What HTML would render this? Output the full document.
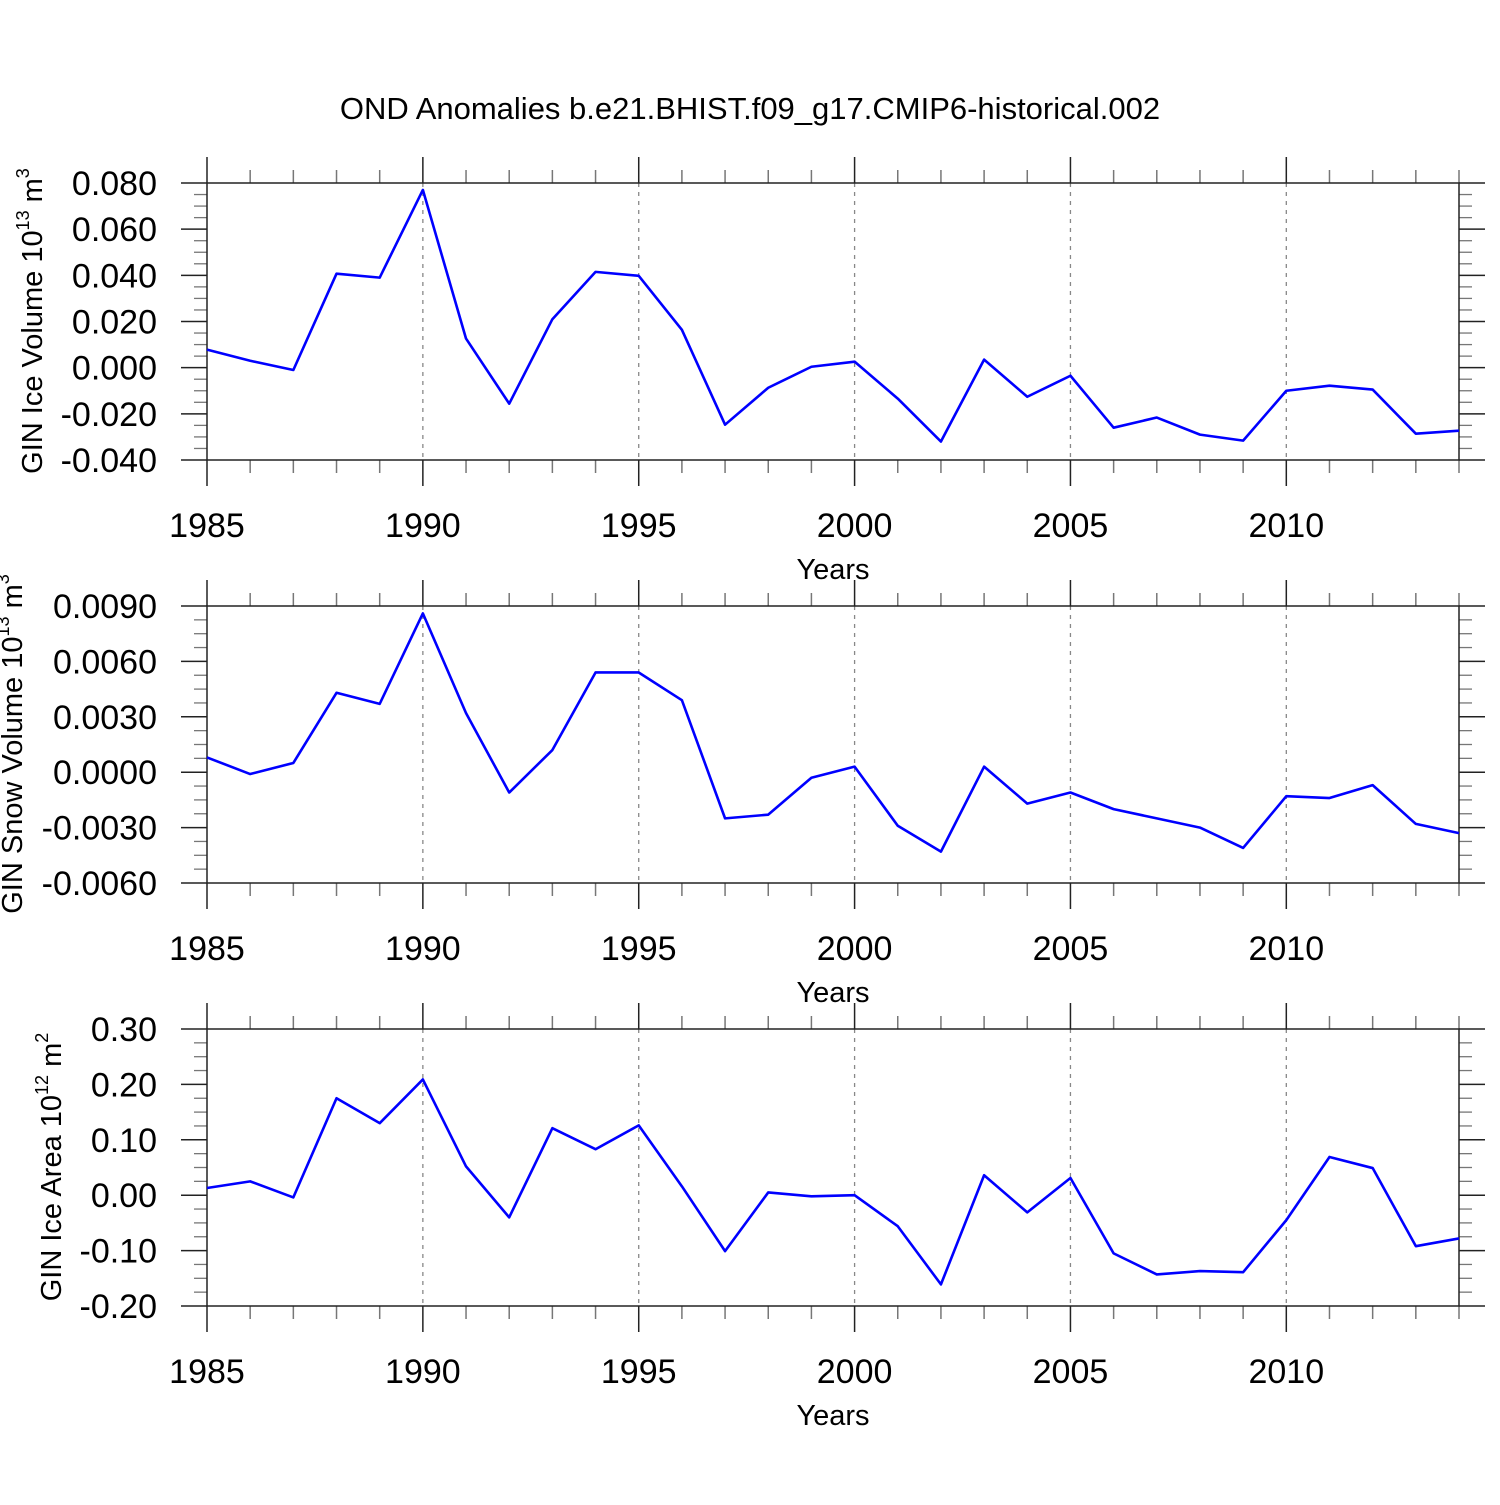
<!DOCTYPE html>
<html><head><meta charset="utf-8"><style>
body{margin:0;background:#fff}
svg text{font-family:"Liberation Sans",sans-serif;fill:#000}
</style></head><body>
<svg id="chart" width="1500" height="1500" xmlns="http://www.w3.org/2000/svg">
<text x="750" y="119" font-size="31" text-anchor="middle">OND Anomalies b.e21.BHIST.f09_g17.CMIP6-historical.002</text>
</svg>
<script>
const years = [1985,1986,1987,1988,1989,1990,1991,1992,1993,1994,1995,1996,1997,1998,1999,2000,2001,2002,2003,2004,2005,2006,2007,2008,2009,2010,2011,2012,2013,2014];
const iceVolume = [0.0078,0.003,-0.001,0.0407,0.039,0.077,0.0126,-0.0156,0.021,0.0415,0.0398,0.0164,-0.0247,-0.0087,0.0004,0.0026,-0.0134,-0.032,0.0035,-0.0126,-0.0035,-0.026,-0.0216,-0.029,-0.0316,-0.01,-0.0078,-0.0095,-0.0286,-0.0273];
const snowVolume = [0.0008,-0.0001,0.0005,0.0043,0.0037,0.0086,0.0032,-0.0011,0.0012,0.0054,0.0054,0.0039,-0.0025,-0.0023,-0.0003,0.0003,-0.0029,-0.0043,0.0003,-0.0017,-0.0011,-0.002,-0.0025,-0.003,-0.0041,-0.0013,-0.0014,-0.0007,-0.0028,-0.0033];
const iceArea = [0.013,0.025,-0.004,0.175,0.13,0.209,0.052,-0.04,0.121,0.083,0.126,0.016,-0.101,0.005,-0.002,0.0,-0.056,-0.161,0.036,-0.031,0.031,-0.105,-0.143,-0.137,-0.139,-0.045,0.069,0.049,-0.092,-0.078];
const xTicks = [1985,1990,1995,2000,2005,2010];
const iceVolTicks = [0.08,0.06,0.04,0.02,0,-0.02,-0.04];
const iceVolLabels = ["0.080","0.060","0.040","0.020","0.000","-0.020","-0.040"];
const snowTicks = [0.009,0.006,0.003,0,-0.003,-0.006];
const snowLabels = ["0.0090","0.0060","0.0030","0.0000","-0.0030","-0.0060"];
const areaTicks = [0.3,0.2,0.1,0,-0.1,-0.2];
const areaLabels = ["0.30","0.20","0.10","0.00","-0.10","-0.20"];

const NS="http://www.w3.org/2000/svg";
const svg=document.getElementById('chart');
function mk(tag,attrs,parent){const e=document.createElementNS(NS,tag);for(const k in attrs)e.setAttribute(k,attrs[k]);(parent||svg).appendChild(e);return e;}
const X0=207,X1=1459;
const xScale=y=>X0+(y-1985)/(2014-1985)*(X1-X0);

function panel(name,top,vals,ticks,labels,ymin,ymax,ylab,sup,unit,ylabX,ylabY){
  const bot=top+277;
  const g=mk('g',{});
  
  
  const ys=v=>bot-(v-ymin)/(ymax-ymin)*(bot-top);
  xTicks.slice(1).forEach(t=>{const l=mk('line',{x1:xScale(t),x2:xScale(t),y1:top,y2:bot,stroke:'#888','stroke-width':1.3,'stroke-dasharray':'4,5'},g);
    
    });
  for(let yr=1985;yr<=2014;yr++){
    const maj=(yr%5===0);const len=maj?26:13;const x=xScale(yr);
    mk('line',{x1:x,x2:x,y1:top,y2:top-len,stroke:maj?'#222':'#777','stroke-width':1.5},g);
    mk('line',{x1:x,x2:x,y1:bot,y2:bot+len,stroke:maj?'#222':'#777','stroke-width':1.5},g);
  }
  const step=(ticks[0]-ticks[1]);
  for(let i=0;i<ticks.length;i++){
    const y=ys(ticks[i]);
    mk('line',{x1:X0,x2:X0-26,y1:y,y2:y,stroke:'#222','stroke-width':1.5},g);
    mk('line',{x1:X1,x2:X1+26,y1:y,y2:y,stroke:'#222','stroke-width':1.5},g);
    const t=mk('text',{x:157,y:y+12,'font-size':34,'text-anchor':'end'},g);
    t.textContent=labels[i];
    
    
    if(i<ticks.length-1){for(let k=1;k<4;k++){const ym=ys(ticks[i]-step*k/4);
      mk('line',{x1:X0,x2:X0-13,y1:ym,y2:ym,stroke:'#777','stroke-width':1.3},g);
      mk('line',{x1:X1,x2:X1+13,y1:ym,y2:ym,stroke:'#777','stroke-width':1.3},g);}}
  }
  mk('rect',{x:X0,y:top,width:X1-X0,height:bot-top,fill:'none',stroke:'#222','stroke-width':1.5},g);
  xTicks.forEach(t=>{const tx=mk('text',{x:xScale(t),y:bot+77,'font-size':34,'text-anchor':'middle'},g);tx.textContent=t;
    
    });
  const xt=mk('text',{x:833,y:bot+119,'font-size':29,'text-anchor':'middle'},g);xt.textContent='Years';
  
  
  const yt=mk('text',{transform:`translate(${ylabX},${ylabY}) rotate(-90)`,'font-size':29,'text-anchor':'middle'},g);
  
  
  yt.innerHTML=ylab+' 10<tspan font-size="18" dy="-13">'+sup+'</tspan><tspan dy="13"> m</tspan><tspan font-size="18" dy="-13">'+unit+'</tspan>';
  const pts=years.map((yr,i)=>xScale(yr)+','+ys(vals[i])).join(' ');
  const pl=mk('polyline',{points:pts,fill:'none',stroke:'#0000ff','stroke-width':2.6,'stroke-linejoin':'round'},g);
  
  
}
panel('ice-volume',183,iceVolume,iceVolTicks,iceVolLabels,-0.04,0.08,'GIN Ice Volume','13','3',42,321);
panel('snow-volume',606,snowVolume,snowTicks,snowLabels,-0.006,0.009,'GIN Snow Volume','13','3',22,744);
panel('ice-area',1029,iceArea,areaTicks,areaLabels,-0.2,0.3,'GIN Ice Area','12','2',61,1167);
</script>
</body></html>
